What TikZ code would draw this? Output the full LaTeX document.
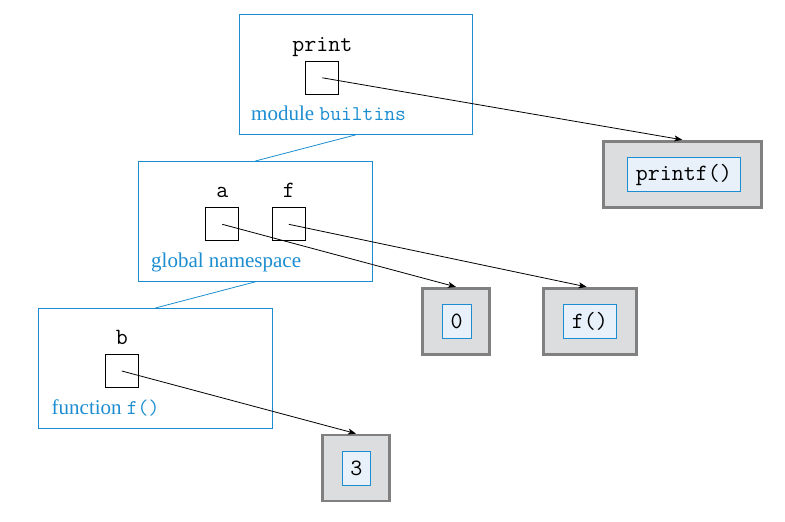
\documentclass[tikz,border=0pt]{standalone}
\usepackage{fontspec}
\setmainfont{Liberation Serif}
\usetikzlibrary{arrows.meta}
\definecolor{frameblue}{RGB}{27,141,208}
\definecolor{valgray}{RGB}{128,128,128}
\definecolor{valfill}{RGB}{220,221,223}
\definecolor{innerfill}{RGB}{232,240,250}
\tikzset{
  frame/.style={draw=frameblue, line width=0.8pt, minimum width=233pt, minimum height=120pt, inner sep=0pt, anchor=north west},
  slot/.style={draw=black, line width=0.8pt, minimum size=33pt, inner sep=0pt},
  varname/.style={font=\fontsize{23.3}{27}\selectfont\ttfamily, anchor=base, inner sep=0pt},
  framelabel/.style={text=frameblue, font=\fontsize{21}{25}\selectfont, anchor=base west, inner sep=0pt},
  valbox/.style={draw=valgray, fill=valfill, line width=2.8pt, inner sep=0pt, minimum height=66pt},
  valinner/.style={draw=frameblue, fill=innerfill, line width=0.8pt, font=\fontsize{23.3}{27}\selectfont\ttfamily, inner xsep=8.2pt, inner ysep=0pt, minimum height=34.7pt},
  link/.style={draw=frameblue, line width=0.8pt},
  refarrow/.style={draw=black, line width=0.8pt, -{Stealth[length=8pt,width=6pt,inset=2pt]}}
}
\begin{document}
\begin{tikzpicture}[x=1pt,y=-1pt]
\useasboundingbox (0,0) rectangle (785,522);

% frames
\node[frame] (mod) at (239,14) {};
\node[frame, minimum width=234pt] (glob) at (138,161) {};
\node[frame, minimum width=234pt] (func) at (38,308) {};
\draw[link] (mod.south) -- (glob.north);
\draw[link] (glob.south) -- (func.north);

% frame labels
\node[framelabel] (lmod) at (251,120) {module \texttt{builtins}};
\node[framelabel] (lglob) at (151,267.5) {global namespace};
\node[framelabel] (lfunc) at (51.5,414) {function \texttt{f()}};

% slots and names
\node[slot] (sprint) at (322.3,77.8) {};
\node[varname] (nprint) at (322.3,51) {print};
\node[slot] (sa) at (222.3,224.3) {};
\node[varname] (na) at (222.3,197.3) {a};
\node[slot] (sf) at (288.8,224.3) {};
\node[varname] (nf) at (288.8,197.3) {f};
\node[slot] (sb) at (121.8,371) {};
\node[varname] (nb) at (121.8,344) {b};

% value boxes
\node[valbox, minimum width=158pt] (vprintf) at (682.3,174.2) {};
\node[valinner] (iprintf) at (683.8,174.5) {printf()};
\node[valbox, minimum width=67pt] (vzero) at (456,321.3) {};
\node[valinner] (izero) at (456.7,321.3) {0};
\node[valbox, minimum width=93pt] (vfun) at (589.7,321.3) {};
\node[valinner] (ifun) at (589.8,321.3) {f()};
\node[valbox, minimum width=67pt] (vthree) at (356,468) {};
\node[valinner] (ithree) at (356.3,468.3) {3};

% references
\draw[refarrow] (sprint.center) -- (vprintf.north);
\draw[refarrow] (sa.center) -- (vzero.north);
\draw[refarrow] (sf.center) -- ([xshift=-3pt]vfun.north);
\draw[refarrow] (sb.center) -- (vthree.north);
\end{tikzpicture}
\end{document}
